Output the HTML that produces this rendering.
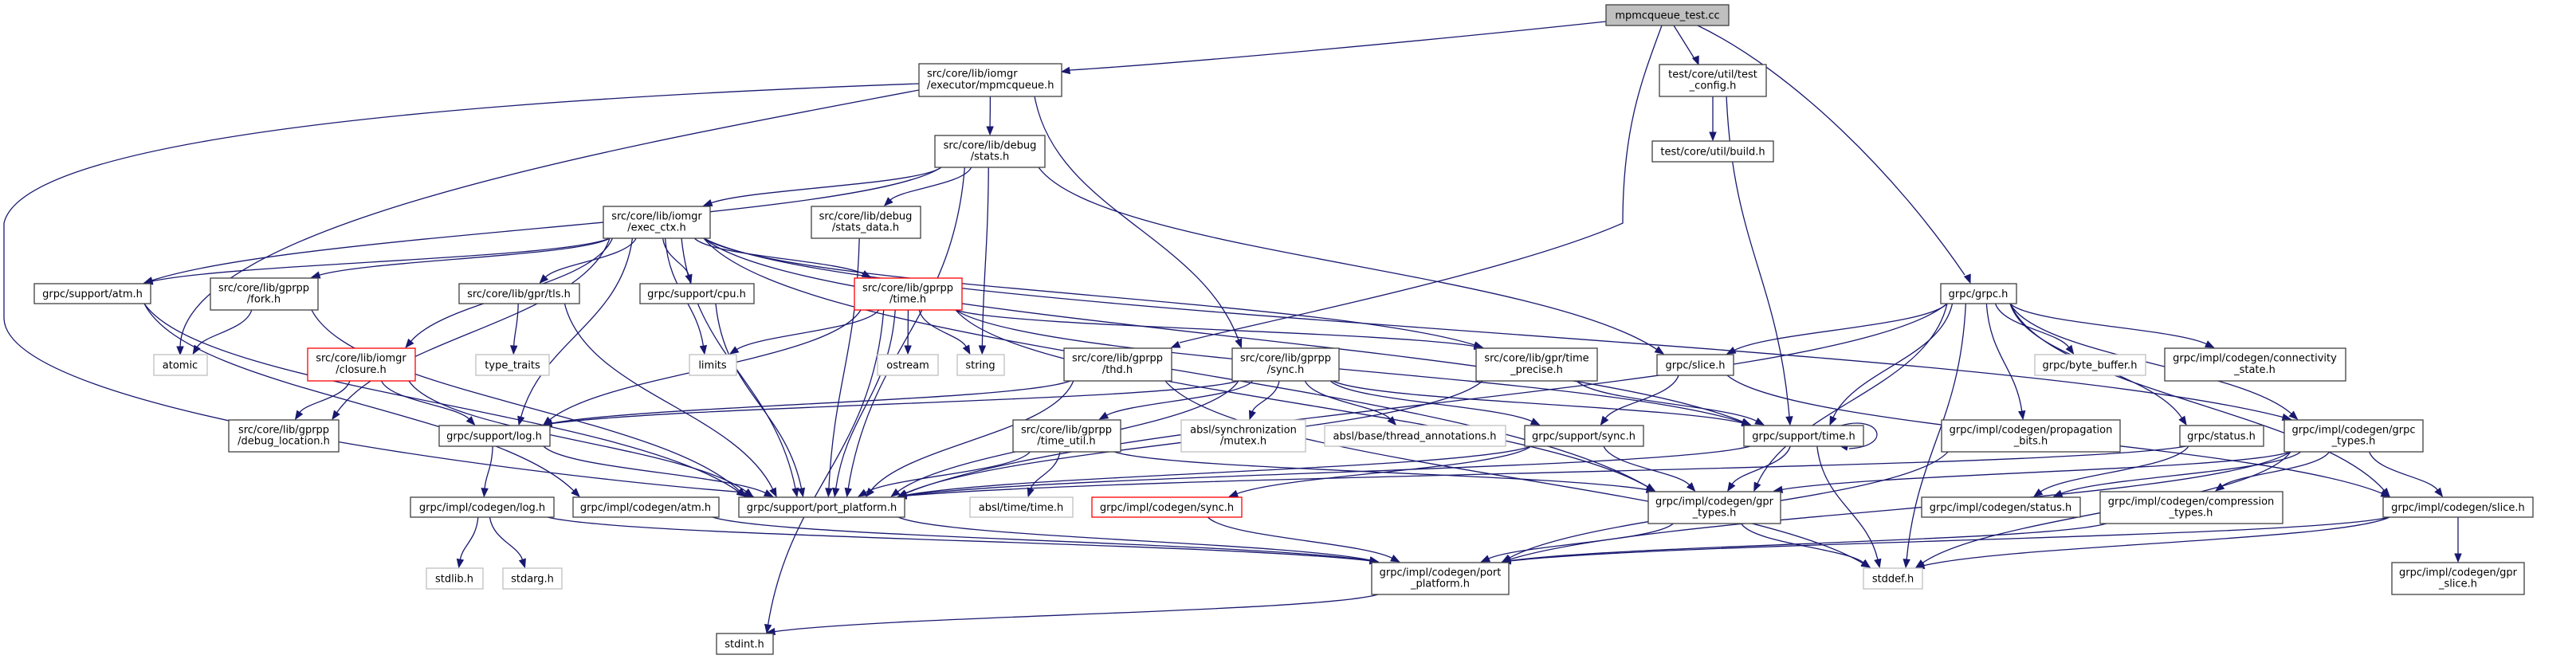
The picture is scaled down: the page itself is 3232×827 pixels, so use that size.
<!DOCTYPE html>
<html><head><meta charset="utf-8">
<style>
html,body{margin:0;padding:0;background:#fff;}
svg{display:block;}
text{font-family:"DejaVu Sans","Liberation Sans",sans-serif;font-size:13px;fill:#000;}
</style></head>
<body>
<svg id="g" xmlns="http://www.w3.org/2000/svg" width="3232" height="827" viewBox="0 0 3232 827">
<g id="edges" fill="none" stroke="#191970" stroke-width="1.3"></g>
<g id="heads" fill="#191970" stroke="#191970"></g>
<g id="nodes">
<rect x="2015" y="6" width="154" height="26" fill="#bfbfbf" stroke="#404040" stroke-width="1.3"/><text x="2092" y="23.5" text-anchor="middle">mpmcqueue_test.cc</text>
<rect x="1153" y="80" width="179" height="41" fill="#fff" stroke="#404040" stroke-width="1.3"/><text x="1163" y="96.5">src/core/lib/iomgr</text><text x="1163" y="111">/executor/mpmcqueue.h</text>
<rect x="2082" y="81" width="134" height="40" fill="#fff" stroke="#404040" stroke-width="1.3"/><text x="2149" y="97.5" text-anchor="middle">test/core/util/test</text><text x="2149" y="111.5" text-anchor="middle">_config.h</text>
<rect x="2073" y="177" width="152" height="26" fill="#fff" stroke="#404040" stroke-width="1.3"/><text x="2149" y="194.5" text-anchor="middle">test/core/util/build.h</text>
<rect x="1173" y="170" width="138" height="40" fill="#fff" stroke="#404040" stroke-width="1.3"/><text x="1242" y="186.5" text-anchor="middle">src/core/lib/debug</text><text x="1242" y="200.5" text-anchor="middle">/stats.h</text>
<rect x="757" y="259" width="134" height="40" fill="#fff" stroke="#404040" stroke-width="1.3"/><text x="824" y="275.5" text-anchor="middle">src/core/lib/iomgr</text><text x="824" y="289.5" text-anchor="middle">/exec_ctx.h</text>
<rect x="1018" y="259" width="137" height="40" fill="#fff" stroke="#404040" stroke-width="1.3"/><text x="1086" y="275.5" text-anchor="middle">src/core/lib/debug</text><text x="1086" y="289.5" text-anchor="middle">/stats_data.h</text>
<rect x="43" y="356" width="146" height="25" fill="#fff" stroke="#404040" stroke-width="1.3"/><text x="116" y="373" text-anchor="middle">grpc/support/atm.h</text>
<rect x="264" y="349" width="135" height="40" fill="#fff" stroke="#404040" stroke-width="1.3"/><text x="331" y="365.5" text-anchor="middle">src/core/lib/gprpp</text><text x="331" y="379.5" text-anchor="middle">/fork.h</text>
<rect x="576" y="356" width="151" height="25" fill="#fff" stroke="#404040" stroke-width="1.3"/><text x="651" y="373" text-anchor="middle">src/core/lib/gpr/tls.h</text>
<rect x="803" y="356" width="143" height="25" fill="#fff" stroke="#404040" stroke-width="1.3"/><text x="874" y="373" text-anchor="middle">grpc/support/cpu.h</text>
<rect x="1072" y="349" width="135" height="40" fill="#fff" stroke="#ff0000" stroke-width="1.3"/><text x="1139" y="365.5" text-anchor="middle">src/core/lib/gprpp</text><text x="1139" y="379.5" text-anchor="middle">/time.h</text>
<rect x="2435" y="356" width="95" height="25" fill="#fff" stroke="#404040" stroke-width="1.3"/><text x="2482" y="373" text-anchor="middle">grpc/grpc.h</text>
<rect x="193" y="445" width="67" height="26" fill="#fff" stroke="#bfbfbf" stroke-width="1.3"/><text x="226" y="462.5" text-anchor="middle">atomic</text>
<rect x="386" y="437" width="135" height="41" fill="#fff" stroke="#ff0000" stroke-width="1.3"/><text x="453" y="453.5" text-anchor="middle">src/core/lib/iomgr</text><text x="453" y="468" text-anchor="middle">/closure.h</text>
<rect x="597" y="445" width="92" height="26" fill="#fff" stroke="#bfbfbf" stroke-width="1.3"/><text x="643" y="462.5" text-anchor="middle">type_traits</text>
<rect x="865" y="445" width="59" height="26" fill="#fff" stroke="#bfbfbf" stroke-width="1.3"/><text x="894" y="462.5" text-anchor="middle">limits</text>
<rect x="1101" y="445" width="76" height="26" fill="#fff" stroke="#bfbfbf" stroke-width="1.3"/><text x="1139" y="462.5" text-anchor="middle">ostream</text>
<rect x="1201" y="445" width="59" height="26" fill="#fff" stroke="#bfbfbf" stroke-width="1.3"/><text x="1230" y="462.5" text-anchor="middle">string</text>
<rect x="1335" y="437" width="135" height="41" fill="#fff" stroke="#404040" stroke-width="1.3"/><text x="1402" y="453.5" text-anchor="middle">src/core/lib/gprpp</text><text x="1402" y="468" text-anchor="middle">/thd.h</text>
<rect x="1546" y="437" width="134" height="41" fill="#fff" stroke="#404040" stroke-width="1.3"/><text x="1613" y="453.5" text-anchor="middle">src/core/lib/gprpp</text><text x="1613" y="468" text-anchor="middle">/sync.h</text>
<rect x="1852" y="437" width="152" height="41" fill="#fff" stroke="#404040" stroke-width="1.3"/><text x="1928" y="453.5" text-anchor="middle">src/core/lib/gpr/time</text><text x="1928" y="468" text-anchor="middle">_precise.h</text>
<rect x="2079" y="445" width="96" height="26" fill="#fff" stroke="#404040" stroke-width="1.3"/><text x="2127" y="462.5" text-anchor="middle">grpc/slice.h</text>
<rect x="2553" y="445" width="139" height="26" fill="#fff" stroke="#bfbfbf" stroke-width="1.3"/><text x="2622" y="462.5" text-anchor="middle">grpc/byte_buffer.h</text>
<rect x="2716" y="437" width="227" height="41" fill="#fff" stroke="#404040" stroke-width="1.3"/><text x="2829" y="453.5" text-anchor="middle">grpc/impl/codegen/connectivity</text><text x="2829" y="468" text-anchor="middle">_state.h</text>
<rect x="287" y="527" width="138" height="40" fill="#fff" stroke="#404040" stroke-width="1.3"/><text x="356" y="543.5" text-anchor="middle">src/core/lib/gprpp</text><text x="356" y="557.5" text-anchor="middle">/debug_location.h</text>
<rect x="1271" y="527" width="135" height="40" fill="#fff" stroke="#404040" stroke-width="1.3"/><text x="1338" y="543.5" text-anchor="middle">src/core/lib/gprpp</text><text x="1338" y="557.5" text-anchor="middle">/time_util.h</text>
<rect x="1482" y="527" width="156" height="40" fill="#fff" stroke="#bfbfbf" stroke-width="1.3"/><text x="1560" y="543.5" text-anchor="middle">absl/synchronization</text><text x="1560" y="557.5" text-anchor="middle">/mutex.h</text>
<rect x="2436" y="527" width="224" height="40" fill="#fff" stroke="#404040" stroke-width="1.3"/><text x="2548" y="543.5" text-anchor="middle">grpc/impl/codegen/propagation</text><text x="2548" y="557.5" text-anchor="middle">_bits.h</text>
<rect x="2866" y="527" width="174" height="40" fill="#fff" stroke="#404040" stroke-width="1.3"/><text x="2953" y="543.5" text-anchor="middle">grpc/impl/codegen/grpc</text><text x="2953" y="557.5" text-anchor="middle">_types.h</text>
<rect x="551" y="534" width="139" height="26" fill="#fff" stroke="#404040" stroke-width="1.3"/><text x="620" y="551.5" text-anchor="middle">grpc/support/log.h</text>
<rect x="1662" y="534" width="227" height="26" fill="#fff" stroke="#bfbfbf" stroke-width="1.3"/><text x="1775" y="551.5" text-anchor="middle">absl/base/thread_annotations.h</text>
<rect x="1913" y="534" width="149" height="26" fill="#fff" stroke="#404040" stroke-width="1.3"/><text x="1987" y="551.5" text-anchor="middle">grpc/support/sync.h</text>
<rect x="2188" y="534" width="150" height="26" fill="#fff" stroke="#404040" stroke-width="1.3"/><text x="2263" y="551.5" text-anchor="middle">grpc/support/time.h</text>
<rect x="2735" y="534" width="105" height="26" fill="#fff" stroke="#404040" stroke-width="1.3"/><text x="2787" y="551.5" text-anchor="middle">grpc/status.h</text>
<rect x="515" y="624" width="180" height="25" fill="#fff" stroke="#404040" stroke-width="1.3"/><text x="605" y="641" text-anchor="middle">grpc/impl/codegen/log.h</text>
<rect x="719" y="624" width="183" height="25" fill="#fff" stroke="#404040" stroke-width="1.3"/><text x="810" y="641" text-anchor="middle">grpc/impl/codegen/atm.h</text>
<rect x="927" y="624" width="208" height="25" fill="#fff" stroke="#404040" stroke-width="1.3"/><text x="1031" y="641" text-anchor="middle">grpc/support/port_platform.h</text>
<rect x="1217" y="624" width="129" height="25" fill="#fff" stroke="#bfbfbf" stroke-width="1.3"/><text x="1281" y="641" text-anchor="middle">absl/time/time.h</text>
<rect x="1370" y="624" width="188" height="25" fill="#fff" stroke="#ff0000" stroke-width="1.3"/><text x="1464" y="641" text-anchor="middle">grpc/impl/codegen/sync.h</text>
<rect x="2411" y="624" width="199" height="25" fill="#fff" stroke="#404040" stroke-width="1.3"/><text x="2510" y="641" text-anchor="middle">grpc/impl/codegen/status.h</text>
<rect x="2068" y="617" width="166" height="40" fill="#fff" stroke="#404040" stroke-width="1.3"/><text x="2151" y="633.5" text-anchor="middle">grpc/impl/codegen/gpr</text><text x="2151" y="647.5" text-anchor="middle">_types.h</text>
<rect x="2635" y="617" width="229" height="40" fill="#fff" stroke="#404040" stroke-width="1.3"/><text x="2749" y="633.5" text-anchor="middle">grpc/impl/codegen/compression</text><text x="2749" y="647.5" text-anchor="middle">_types.h</text>
<rect x="2990" y="624" width="188" height="25" fill="#fff" stroke="#404040" stroke-width="1.3"/><text x="3084" y="641" text-anchor="middle">grpc/impl/codegen/slice.h</text>
<rect x="535" y="713" width="71" height="26" fill="#fff" stroke="#bfbfbf" stroke-width="1.3"/><text x="570" y="730.5" text-anchor="middle">stdlib.h</text>
<rect x="631" y="713" width="74" height="26" fill="#fff" stroke="#bfbfbf" stroke-width="1.3"/><text x="668" y="730.5" text-anchor="middle">stdarg.h</text>
<rect x="1721" y="706" width="172" height="40" fill="#fff" stroke="#404040" stroke-width="1.3"/><text x="1807" y="722.5" text-anchor="middle">grpc/impl/codegen/port</text><text x="1807" y="736.5" text-anchor="middle">_platform.h</text>
<rect x="2338" y="713" width="74" height="26" fill="#fff" stroke="#bfbfbf" stroke-width="1.3"/><text x="2375" y="730.5" text-anchor="middle">stddef.h</text>
<rect x="3001" y="706" width="166" height="40" fill="#fff" stroke="#404040" stroke-width="1.3"/><text x="3084" y="722.5" text-anchor="middle">grpc/impl/codegen/gpr</text><text x="3084" y="736.5" text-anchor="middle">_slice.h</text>
<rect x="899" y="795" width="71" height="26" fill="#fff" stroke="#404040" stroke-width="1.3"/><text x="934" y="812.5" text-anchor="middle">stdint.h</text>
</g>
</svg>
<script>
var N={root:[2015,6,154,26],mq:[1153,80,179,41],tc:[2082,81,134,40],build:[2073,177,152,26],stats:[1173,170,138,40],exec:[757,259,134,40],sdata:[1018,259,137,40],atm:[43,356,146,25],fork:[264,349,135,40],tls:[576,356,151,25],cpu:[803,356,143,25],time:[1072,349,135,40],grpc:[2435,356,95,25],atomic:[193,445,67,26],closure:[386,437,135,41],tt:[597,445,92,26],limits:[865,445,59,26],ostream:[1101,445,76,26],string:[1201,445,59,26],thd:[1335,437,135,41],gsync:[1546,437,134,41],tprec:[1852,437,152,41],slice:[2079,445,96,26],bb:[2553,445,139,26],conn:[2716,437,227,41],dloc:[287,527,138,40],tutil:[1271,527,135,40],mutex:[1482,527,156,40],prop:[2436,527,224,40],gtypes:[2866,527,174,40],log:[551,534,139,26],tann:[1662,534,227,26],ssync:[1913,534,149,26],stime:[2188,534,150,26],status:[2735,534,105,26],clog:[515,624,180,25],catm:[719,624,183,25],pp:[927,624,208,25],atime:[1217,624,129,25],csync:[1370,624,188,25],cstatus:[2411,624,199,25],gprt:[2068,617,166,40],comp:[2635,617,229,40],cslice:[2990,624,188,25],stdlib:[535,713,71,26],stdarg:[631,713,74,26],cpp:[1721,706,172,40],stddef:[2338,713,74,26],gslice:[3001,706,166,40],stdint:[899,795,71,26]};
var E=[["tc","build"],["tc","stime"],
["mq","stats"],["mq","gsync"],
["stats","exec"],["stats","sdata"],["stats","atm"],["stats","string"],["stats","pp"],["stats","slice"],
["exec","atm"],["exec","fork"],["exec","closure"],["exec","dloc"],["exec","log"],["exec","tls"],["exec","pp"],["exec","cpu"],["exec","limits"],["exec","time"],["exec","tprec"],["exec","stime"],["exec","gprt"],["exec","gtypes"],
["sdata","pp"],["atm","pp"],["atm","catm"],["fork","atomic"],["fork","pp"],["tls","tt"],["tls","pp"],["cpu","pp"],
["time","limits"],["time","ostream"],["time","string"],["time","pp"],["time","stdint"],["time","log"],["time","stime"],["time","tprec"],["time","gprt"],
["closure","dloc"],["closure","log"],["closure","pp"],
["thd","log"],["thd","pp"],["thd","stddef"],
["gsync","pp"],["gsync","log"],["gsync","mutex"],["gsync","tann"],["gsync","ssync"],["gsync","tutil"],["gsync","stime"],
["tutil","pp"],["tutil","atime"],["tutil","gprt"],
["tprec","pp"],["tprec","stime"],
["grpc","pp"],["grpc","slice"],["grpc","stime"],["grpc","bb"],["grpc","conn"],["grpc","prop"],["grpc","status"],["grpc","gtypes"],["grpc","stddef"],["grpc","cslice"],["grpc","gprt"],
["slice","ssync"],["slice","cslice"],
["ssync","pp"],["ssync","gprt"],["ssync","csync"],
["stime","pp"],["stime","gprt"],["stime","stddef"],
["log","pp"],["log","clog"],["clog","stdlib"],["clog","stdarg"],["clog","cpp"],
["catm","cpp"],["pp","cpp"],["csync","cpp"],["gprt","cpp"],["gprt","stddef"],["cpp","stdint"],
["prop","cpp"],["status","pp"],["status","cstatus"],
["gtypes","comp"],["gtypes","cslice"],["gtypes","gprt"],["gtypes","cstatus"],["gtypes","stddef"],["gtypes","cpp"],
["comp","cpp"],["cslice","gslice"],["cslice","cpp"],["cslice","stddef"]];
var ns="http://www.w3.org/2000/svg",ge=document.getElementById("edges"),gh=document.getElementById("heads");
function cl(v,a,b){return Math.max(a,Math.min(b,v));}
function head(ex,ey,vx,vy){var L=Math.sqrt(vx*vx+vy*vy)||1;vx/=L;vy/=L;var bx=ex-vx*10,by=ey-vy*10,px=-vy,py=vx;
var h=document.createElementNS(ns,"polygon");h.setAttribute("points",ex+","+ey+" "+(bx+px*4)+","+(by+py*4)+" "+(bx-px*4)+","+(by-py*4));gh.appendChild(h);}
function path(d){var p=document.createElementNS(ns,"path");p.setAttribute("d",d);ge.appendChild(p);}
E.forEach(function(e){var s=N[e[0]],t=N[e[1]];
var scx=s[0]+s[2]/2,tcx=t[0]+t[2]/2,sy=s[1]+s[3],ty=t[1];
var sx=cl(scx+(tcx-scx)*0.15,s[0]+8,s[0]+s[2]-8);
var tx=cl(tcx+(scx-tcx)*0.15,t[0]+8,t[0]+t[2]-8);
var dy=ty-sy;if(dy<20){dy=20;}
var c1y=sy+dy*0.45,c2y=ty-dy*0.45;
var ex=tx,ey=ty-1;
var c2x=tx+(sx-tx)*0.2;
var vx=ex-c2x,vy=ey-c2y,L=Math.sqrt(vx*vx+vy*vy)||1;
var bx=ex-vx/L*10,by=ey-vy/L*10;
path("M"+sx+","+sy+" C"+(sx+(tx-sx)*0.1)+","+c1y+" "+c2x+","+c2y+" "+bx+","+by);
head(ex,ey,vx,vy);});
/* custom routed edges */
path("M2015,27 C1800,50 1500,78 1342,88");head(1332,90,-10,1.5);
path("M2085,32 C2060,100 2036,160 2036,280 C1900,340 1600,400 1480,430");head(1470,436,-10,4);
path("M2100,32 L2125,72");head(2131,81,3,8);
path("M2130,32 C2250,90 2380,220 2465,345");head(2472,355,3,8);
path("M1153,105 C600,125 30,170 5,280 L5,400 C10,520 700,600 935,618");head(945,623,10,3);
path("M1153,113 C800,180 230,280 226,435");head(226,445,0,10);
path("M2310,534 C2360,520 2375,560 2320,563");head(2308,559,-10,-2);
</script>
</body></html>
